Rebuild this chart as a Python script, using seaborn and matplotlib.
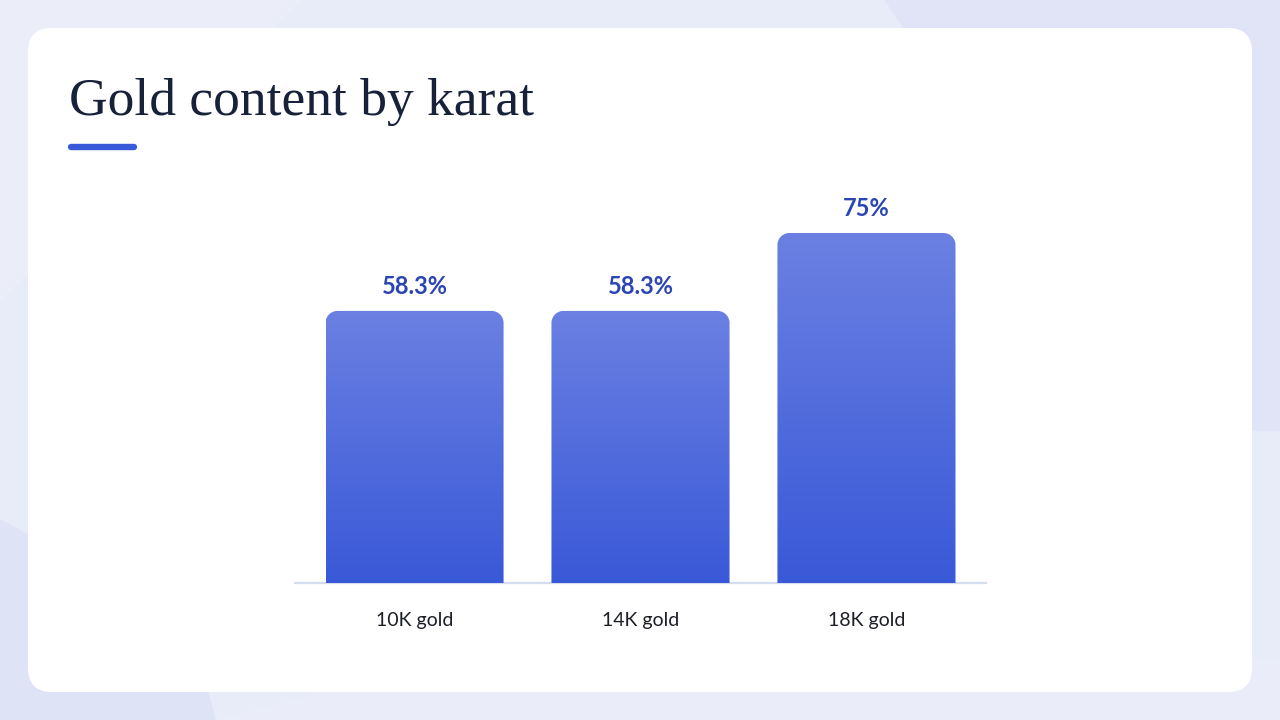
import numpy as np
import pandas as pd
import matplotlib
matplotlib.use("Agg")
import matplotlib.pyplot as plt
import seaborn as sns
from matplotlib.patches import FancyBboxPatch, Polygon
from matplotlib.colors import LinearSegmentedColormap

# data
categories = ["10K gold", "14K gold", "18K gold"]
values = [58.3, 58.3, 75.0]
value_labels = ["58.3%", "58.3%", "75%"]

df = pd.DataFrame({"karat": categories, "gold": values})

sns.set_style("white")
plt.rcParams["font.family"] = ["Lato", "DejaVu Sans"]

W, H = 1280, 720
fig = plt.figure(figsize=(12.8, 7.2), dpi=100)

# background + card, in pixel coords
bg = fig.add_axes([0, 0, 1, 1])
bg.set_xlim(0, W)
bg.set_ylim(H, 0)
bg.axis("off")
bg.add_patch(Polygon([[0, 0], [W, 0], [W, H], [0, H]], color="#e8ebf8", zorder=0))
bg.add_patch(Polygon([[885, 0], [W, 0], [W, 430], [1180, 430]], color="#e0e4f6", zorder=0))
bg.add_patch(Polygon([[0, 0], [300, 0], [0, 300]], color="#ebeef9", zorder=0))
bg.add_patch(Polygon([[0, 520], [190, 620], [215, H], [0, H]], color="#dfe3f6", zorder=0))
bg.add_patch(Polygon([[215, H], [600, 620], [W, 660], [W, H]], color="#eaedf9", zorder=0))
bg.add_patch(FancyBboxPatch((28, 28), 1224, 664, boxstyle="round,pad=0,rounding_size=24",
                            fc="white", ec="none", zorder=1))

bg.text(69, 115, "Gold content by karat", fontsize=38.5, color="#17213a",
        family=["Liberation Serif", "DejaVu Serif"], va="baseline", ha="left", zorder=2)
bg.plot([71, 134], [147, 147], color="#3a5bd9", lw=4.6, solid_capstyle="round", zorder=2)

# chart axes: baseline at y=583 px, from x=295 to 986 px
px_per_unit = 350 / 75.0
ymax = 80
ax_h = ymax * px_per_unit
ax = fig.add_axes([295 / W, (H - 583) / H, 691 / W, ax_h / H])
ax.patch.set_alpha(0)

sns.barplot(data=df, x="karat", y="gold", ax=ax, width=0.788, color="#4a66dc")
ax.set_xlim(-0.529, 2.529)
ax.set_ylim(0, ymax)

cmap = LinearSegmentedColormap.from_list("g", ["#3a59d8", "#6b80e2"])
grad = np.linspace(0, 1, 256).reshape(-1, 1)
rx = 12 / 226.0
ry = 12 / px_per_unit
for bar, lab in zip(ax.patches, value_labels):
    x0, w, h = bar.get_x(), bar.get_width(), bar.get_height()
    bar.set_visible(False)
    t = np.linspace(0, np.pi / 2, 20)
    right = np.column_stack([x0 + w - rx + rx * np.cos(t), h - ry + ry * np.sin(t)])
    left = np.column_stack([x0 + rx - rx * np.sin(t), h - ry + ry * np.cos(t)])
    pts = np.vstack([[[x0 + w, 0]], right, left, [[x0, 0]]])
    clip = Polygon(pts, closed=True, fc="none", ec="none", transform=ax.transData)
    ax.add_patch(clip)
    im = ax.imshow(grad, cmap=cmap, origin="lower", aspect="auto",
                   extent=[x0, x0 + w, 0, h], zorder=2)
    im.set_clip_path(clip)
    ax.annotate(lab, (x0 + w / 2, h), xytext=(0, 9), textcoords="offset points",
                ha="center", va="bottom", fontsize=17, fontweight="bold", color="#2b46b3")

ax.set_xlim(-0.529, 2.529)
ax.set_ylim(0, ymax)
ax.set_xlabel("")
ax.set_ylabel("")
ax.set_yticks([])
for s in ["top", "right", "left"]:
    ax.spines[s].set_visible(False)
ax.spines["bottom"].set_color("#d6ddef")
ax.spines["bottom"].set_linewidth(1.6)
ax.spines["bottom"].set_zorder(1)
ax.tick_params(axis="x", length=0, pad=21, labelsize=14, labelcolor="#1d1f26")

fig.savefig("out.png", dpi=100)
